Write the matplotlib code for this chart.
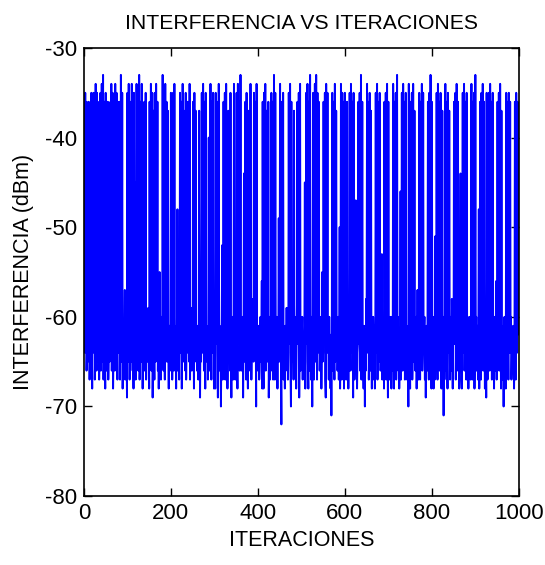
import numpy as np
import matplotlib
matplotlib.use("Agg")
import matplotlib.pyplot as plt

# interferencia (dBm) por iteracion, bloques de 100 iteraciones
blk_001_100 = [-36,-64,-35,-61,-36,-66,-62,-37,-65,-36,
               -60,-37,-67,-63,-36,-66,-35,-62,-68,-36,
               -64,-35,-61,-36,-67,-63,-34,-60,-66,-35,
               -63,-36,-65,-60,-67,-62,-64,-35,-66,-61,
               -34,-65,-62,-33,-67,-61,-36,-64,-68,-35,
               -62,-66,-60,-64,-36,-67,-63,-50,-65,-61,
               -36,-62,-34,-66,-61,-35,-68,-63,-36,-60,
               -66,-34,-63,-65,-35,-61,-67,-36,-64,-62,
               -60,-36,-67,-63,-33,-61,-65,-35,-68,-64,
               -62,-66,-61,-57,-67,-64,-60,-63,-69,-35]
blk_101_200 = [-62,-65,-34,-61,-67,-63,-36,-65,-60,-34,
               -63,-66,-61,-68,-35,-60,-65,-45,-67,-61,
               -34,-64,-62,-35,-66,-61,-33,-67,-64,-36,
               -62,-65,-34,-60,-68,-63,-64,-61,-36,-66,
               -64,-35,-67,-62,-60,-65,-63,-59,-62,-68,
               -36,-63,-61,-34,-66,-62,-35,-69,-63,-37,
               -61,-67,-35,-62,-65,-34,-63,-60,-36,-66,
               -62,-68,-63,-55,-61,-65,-67,-64,-60,-63,
               -33,-62,-66,-35,-61,-67,-34,-64,-62,-36,
               -65,-60,-37,-63,-68,-62,-61,-66,-64,-35]
blk_201_300 = [-62,-36,-67,-61,-35,-63,-66,-34,-60,-65,
               -63,-68,-61,-64,-48,-66,-60,-63,-67,-62,
               -35,-64,-62,-36,-68,-61,-34,-65,-62,-37,
               -64,-60,-66,-35,-67,-62,-64,-61,-36,-63,
               -62,-65,-34,-67,-61,-64,-59,-66,-63,-60,
               -36,-62,-68,-35,-63,-60,-37,-65,-62,-66,
               -61,-63,-67,-62,-37,-58,-69,-61,-65,-62,
               -35,-64,-60,-34,-61,-66,-36,-63,-68,-35,
               -63,-61,-65,-62,-67,-63,-40,-60,-66,-61,
               -34,-63,-67,-36,-62,-64,-35,-61,-68,-65]
blk_301_400 = [-62,-68,-35,-63,-60,-36,-64,-69,-62,-34,
               -66,-61,-65,-62,-70,-64,-60,-52,-67,-63,
               -36,-62,-66,-35,-67,-61,-34,-63,-60,-68,
               -64,-37,-61,-65,-62,-66,-35,-64,-69,-62,
               -60,-63,-67,-62,-34,-61,-63,-67,-59,-64,
               -35,-62,-68,-34,-63,-60,-36,-66,-62,-33,
               -63,-66,-61,-64,-60,-69,-63,-44,-65,-62,
               -36,-60,-67,-35,-64,-62,-68,-37,-61,-65,
               -62,-66,-34,-61,-67,-63,-60,-64,-58,-65,
               -35,-63,-62,-36,-61,-70,-34,-66,-62,-63]
blk_401_500 = [-61,-64,-67,-66,-63,-60,-65,-62,-56,-68,
               -36,-62,-68,-35,-63,-60,-34,-66,-62,-37,
               -63,-61,-65,-36,-69,-64,-60,-67,-62,-66,
               -35,-63,-61,-36,-67,-64,-33,-62,-67,-35,
               -62,-66,-60,-63,-68,-62,-64,-49,-65,-61,
               -34,-62,-65,-72,-36,-63,-60,-35,-67,-62,
               -63,-68,-61,-66,-64,-59,-65,-62,-67,-64,
               -35,-60,-63,-34,-66,-70,-36,-64,-61,-65,
               -62,-67,-37,-63,-60,-66,-62,-68,-63,-58,
               -36,-63,-62,-35,-69,-61,-34,-66,-62,-65]
blk_501_600 = [-63,-60,-67,-62,-66,-63,-61,-45,-68,-62,
               -35,-63,-61,-34,-65,-68,-36,-62,-66,-33,
               -62,-67,-60,-63,-70,-62,-35,-61,-67,-59,
               -34,-62,-65,-33,-61,-67,-35,-64,-60,-36,
               -61,-66,-64,-62,-60,-68,-63,-55,-65,-64,
               -36,-60,-63,-35,-67,-69,-34,-63,-61,-35,
               -64,-62,-67,-60,-65,-62,-68,-63,-71,-61,
               -35,-66,-61,-36,-63,-67,-34,-65,-60,-37,
               -62,-63,-66,-64,-60,-67,-62,-50,-68,-61,
               -34,-62,-67,-35,-63,-60,-36,-68,-62,-35]
blk_601_700 = [-63,-61,-67,-62,-36,-63,-60,-68,-62,-66,
               -35,-62,-66,-34,-60,-64,-36,-62,-69,-35,
               -61,-67,-62,-63,-47,-60,-65,-68,-64,-63,
               -36,-63,-60,-35,-66,-62,-33,-67,-61,-36,
               -62,-65,-68,-61,-64,-70,-62,-66,-58,-61,
               -34,-60,-64,-36,-67,-63,-35,-61,-66,-37,
               -63,-68,-61,-65,-60,-62,-67,-61,-68,-62,
               -35,-64,-62,-34,-67,-60,-36,-65,-62,-35,
               -61,-66,-64,-60,-53,-67,-61,-66,-62,-68,
               -36,-62,-60,-35,-67,-63,-34,-62,-69,-36]
blk_701_800 = [-62,-67,-63,-60,-65,-62,-68,-60,-64,-66,
               -34,-63,-68,-36,-61,-64,-35,-67,-62,-33,
               -64,-60,-66,-62,-68,-64,-61,-46,-67,-62,
               -35,-62,-66,-34,-63,-60,-36,-67,-65,-35,
               -63,-61,-67,-64,-62,-70,-34,-66,-62,-68,
               -36,-64,-60,-35,-67,-63,-34,-65,-61,-37,
               -62,-66,-65,-60,-68,-62,-57,-63,-67,-64,
               -35,-61,-67,-36,-64,-60,-34,-66,-63,-35,
               -64,-62,-60,-67,-62,-69,-63,-61,-66,-62,
               -36,-63,-67,-35,-60,-64,-33,-62,-68,-36]
blk_801_900 = [-61,-66,-62,-68,-60,-62,-67,-51,-63,-65,
               -35,-62,-67,-34,-64,-60,-36,-66,-62,-35,
               -62,-68,-61,-37,-65,-60,-71,-61,-67,-64,
               -34,-60,-66,-36,-62,-68,-35,-61,-64,-37,
               -63,-67,-64,-60,-66,-58,-62,-68,-61,-63,
               -36,-63,-60,-35,-67,-62,-34,-66,-61,-36,
               -62,-65,-68,-63,-60,-44,-61,-67,-68,-62,
               -35,-64,-60,-34,-66,-63,-36,-62,-67,-35,
               -61,-66,-62,-68,-63,-60,-62,-65,-67,-60,
               -34,-62,-67,-36,-63,-60,-35,-68,-62,-33]
blk_901_1000 = [-63,-60,-66,-64,-61,-67,-62,-48,-68,-61,
                -36,-63,-67,-35,-60,-64,-34,-66,-63,-36,
                -62,-68,-61,-63,-69,-35,-64,-67,-63,-60,
                -35,-61,-66,-34,-64,-62,-36,-67,-61,-35,
                -64,-62,-68,-60,-62,-66,-63,-56,-67,-61,
                -36,-63,-60,-35,-66,-64,-34,-61,-68,-37,
                -62,-67,-63,-61,-70,-62,-60,-66,-63,-68,
                -35,-62,-66,-36,-60,-67,-35,-62,-64,-36,
                -63,-60,-67,-64,-62,-66,-61,-65,-68,-64,
                -36,-63,-67,-35,-61,-64,-36,-62,-60,-51]

interferencia = np.array(blk_001_100 + blk_101_200 + blk_201_300 + blk_301_400
                         + blk_401_500 + blk_501_600 + blk_601_700 + blk_701_800
                         + blk_801_900 + blk_901_1000, dtype=float)
iteraciones = np.arange(1, len(interferencia) + 1)

x_ticks = [0, 200, 400, 600, 800, 1000]
y_ticks = [-80, -70, -60, -50, -40, -30]

plt.rcParams['font.family'] = ['Liberation Sans', 'DejaVu Sans']
plt.rcParams['axes.unicode_minus'] = False

fig = plt.figure(figsize=(5.45, 5.65), dpi=100)
ax = fig.add_axes([0.154, 0.122, 0.798, 0.793])
ax.plot(iteraciones, interferencia, color=(0, 0, 1), lw=1.4)

ax.set_xlim(0, 1000)
ax.set_ylim(-80, -30)
ax.set_xticks(x_ticks)
ax.set_yticks(y_ticks)
ax.tick_params(direction='in', top=True, right=True, length=6, width=1,
               labelsize=16, colors='black', pad=5)
for s in ax.spines.values():
    s.set_linewidth(1.2)

ax.set_title('INTERFERENCIA VS ITERACIONES', fontsize=15.2, pad=14)
ax.set_xlabel('ITERACIONES', fontsize=15.5, labelpad=4)
ax.set_ylabel('INTERFERENCIA (dBm)', fontsize=15.5, labelpad=8)

fig.savefig('out.png', dpi=100)
